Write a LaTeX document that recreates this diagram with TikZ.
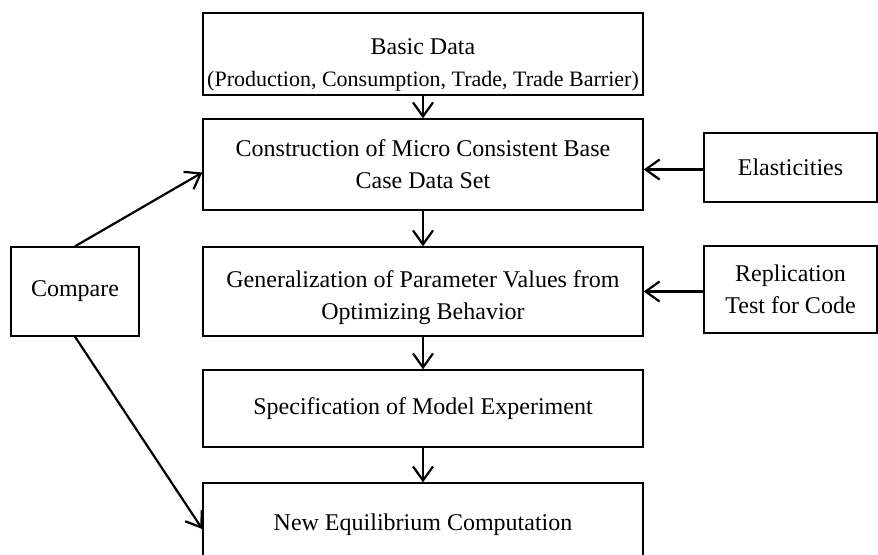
\documentclass[tikz,border=0pt]{standalone}
\usepackage{fontspec}
\setmainfont{Liberation Serif}
\usetikzlibrary{arrows.meta}

\begin{document}
\begin{tikzpicture}[x=0.5pt,y=-0.5pt,
  box/.style={draw,line width=0.7pt,inner sep=2pt,align=center,font=\fontsize{12}{16}\selectfont},
  mainbox/.style={box,minimum width=220pt},
  flow/.style={line width=1.1pt,-{Straight Barb[length=7pt,width=10pt,line width=1.1pt]}}]
\useasboundingbox (0,0) rectangle (878,554);
% main column
\node [mainbox,minimum height=41pt,inner ysep=0pt] (basic) at (423,54)
  {\rule{0pt}{19pt}Basic Data\\[0pt]{\fontsize{11}{13}\selectfont (Production, Consumption, Trade, Trade Barrier)}};
\node [mainbox,minimum height=45.5pt] (construct) at (423,164.5)
  {Construction of Micro Consistent Base\\Case Data Set};
\node [mainbox,minimum height=44.5pt] (general) at (423,291.5)
  {\rule{0pt}{15pt}Generalization of Parameter Values from\\Optimizing Behavior};
\node [mainbox,minimum height=38.5pt] (spec) at (423,408.5)
  {Specification of Model Experiment};
\node [mainbox,minimum height=42pt] (neweq) at (423,525)
  {New Equilibrium Computation};
% side boxes
\node [box,minimum width=64pt,minimum height=44.5pt] (compare) at (75,291.5) {Compare};
\node [box,minimum width=86.5pt,minimum height=34.5pt] (elast) at (790.5,167.5) {Elasticities};
\node [box,minimum width=86.5pt,minimum height=43.5pt] (replic) at (790.5,289.5) {Replication\\Test for Code};
% arrows
\draw [flow] (basic) -- (construct);
\draw [flow] (construct) -- (general);
\draw [flow] (general) -- (spec);
\draw [flow] (spec) -- (neweq);
\draw [flow] ([yshift=-1pt]elast.west) -- ([yshift=-1pt]elast.west -| construct.east);
\draw [flow] ([yshift=-1pt]replic.west) -- ([yshift=-1pt]replic.west -| general.east);
\draw [flow] (compare.north) -- ([yshift=-4pt]construct.west);
\draw [flow] (compare.south) -- ([yshift=-2pt]neweq.west);
\end{tikzpicture}
\end{document}
